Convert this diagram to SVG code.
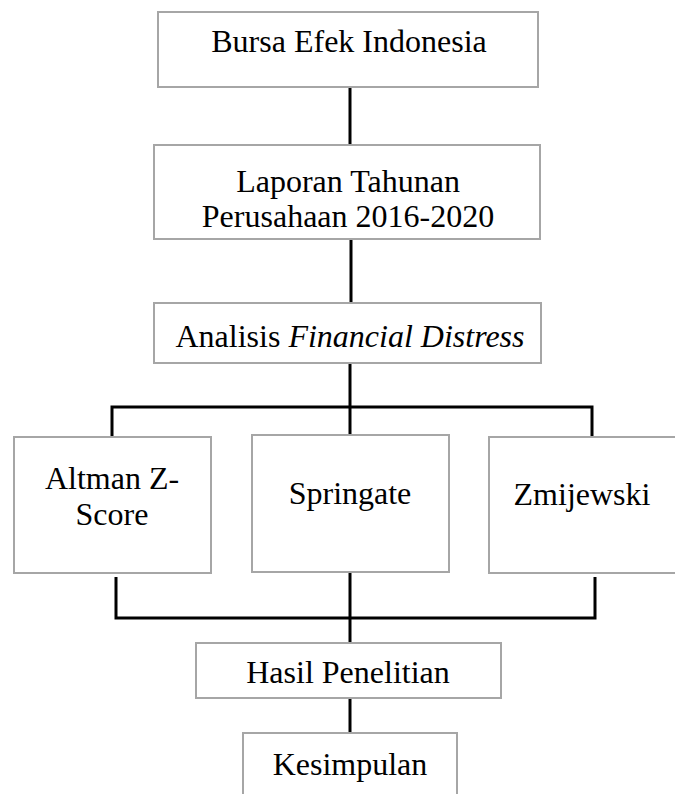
<svg xmlns="http://www.w3.org/2000/svg" width="675" height="794" viewBox="0 0 675 794">
<style>
.box{fill:#fff;stroke:#a6a6a6;stroke-width:2}
.t{font-family:"Liberation Serif","Times New Roman",serif;font-size:32px;fill:#000;text-anchor:middle}
.c{fill:none;stroke:#000;stroke-width:3}
</style>
<rect width="675" height="794" fill="#fff"/>
<g id="connectors">
<line class="c" x1="350" y1="87" x2="350" y2="145"/>
<line class="c" x1="351" y1="239" x2="351" y2="303"/>
<line class="c" x1="350" y1="363" x2="350" y2="435"/>
<polyline class="c" points="112,437 112,407 592,407 592,437"/>
<polyline class="c" points="116,577 116,618 595,618 595,577"/>
<line class="c" x1="350" y1="572" x2="350" y2="643"/>
<line class="c" x1="350" y1="698" x2="350" y2="733"/>
</g>
<g id="bei">
<rect class="box" x="158" y="12" width="380" height="75"/>
<text class="t" x="349" y="52">Bursa Efek Indonesia</text>
</g>
<g id="laporan">
<rect class="box" x="154" y="145" width="386" height="94"/>
<text class="t" x="348" y="192">Laporan Tahunan</text>
<text class="t" x="348" y="227">Perusahaan 2016-2020</text>
</g>
<g id="analisis">
<rect class="box" x="154" y="303" width="387" height="60"/>
<text class="t" x="350" y="347">Analisis <tspan font-style="italic">Financial Distress</tspan></text>
</g>
<g id="altman">
<rect class="box" x="14" y="437" width="197" height="136"/>
<text class="t" x="112" y="489">Altman Z-</text>
<text class="t" x="112" y="525">Score</text>
</g>
<g id="springate">
<rect class="box" x="252" y="435" width="197" height="137"/>
<text class="t" x="350" y="504">Springate</text>
</g>
<g id="zmijewski">
<rect class="box" x="489" y="437" width="190" height="136"/>
<text class="t" x="582" y="505">Zmijewski</text>
</g>
<g id="hasil">
<rect class="box" x="196" y="643" width="305" height="55"/>
<text class="t" x="348" y="683">Hasil Penelitian</text>
</g>
<g id="kesimpulan">
<rect class="box" x="243" y="733" width="214" height="70"/>
<text class="t" x="350" y="775">Kesimpulan</text>
</g>
</svg>
